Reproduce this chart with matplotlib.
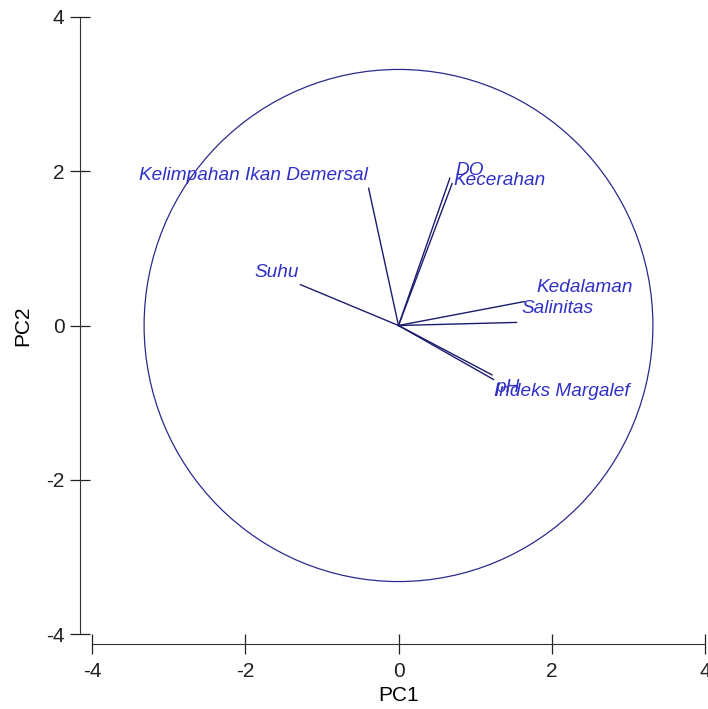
import numpy as np
import matplotlib
matplotlib.use("Agg")
import matplotlib.pyplot as plt
from matplotlib.patches import Circle

plt.rcParams['font.family'] = ['Liberation Sans', 'DejaVu Sans']
plt.rcParams['axes.unicode_minus'] = False

# PCA loadings (PC1, PC2) of each variable
variables = ['Kelimpahan Ikan Demersal', 'Suhu', 'DO', 'Kecerahan',
             'Kedalaman', 'Salinitas', 'pH', 'Indeks Margalef']
pc1 = [-0.39, -1.28, 0.67, 0.70, 1.64, 1.54, 1.24, 1.22]
pc2 = [1.78, 0.53, 1.91, 1.84, 0.31, 0.04, -0.70, -0.64]

# where each name is written
label_x = [-0.40, -1.88, 0.74, 0.72, 1.80, 1.61, 1.27, 1.24]
label_y = [1.95, 0.69, 2.01, 1.88, 0.49, 0.22, -0.80, -0.86]
label_ha = ['right', 'left', 'left', 'left', 'left', 'left', 'left', 'left']

circle_r = 3.32

fig = plt.figure(figsize=(7.08, 7.09), dpi=100)
ax = fig.add_axes([92/708, 75/709, 613/708, 617/709])

line_col = '#1c1c6e'
text_col = '#3030c8'

for x, y in zip(pc1, pc2):
    ax.plot([0, x], [0, y], color=line_col, lw=1.0)

for name, x, y, ha in zip(variables, label_x, label_y, label_ha):
    ax.text(x, y, name, color=text_col, fontsize=13.7, style='italic',
            ha=ha, va='center')

ax.add_patch(Circle((0, 0), circle_r, fill=False, edgecolor='#2a2a8c', lw=0.9))

ax.set_xlim(-4, 4)
ax.set_ylim(-4, 4)
ax.set_xticks([-4, -2, 0, 2, 4])
ax.set_yticks([-4, -2, 0, 2, 4])
ax.set_xlabel('PC1', fontsize=15)
ax.set_ylabel('PC2', fontsize=15)
ax.xaxis.set_label_coords(0.5, -0.084)
ax.yaxis.set_label_coords(-0.097, 0.5)

for s in ['top', 'right']:
    ax.spines[s].set_visible(False)
ax.spines['left'].set_position(('outward', 8.6))
ax.spines['bottom'].set_position(('outward', 7.2))
ax.spines['left'].set_color('#333333')
ax.spines['bottom'].set_color('#333333')
ax.tick_params(direction='inout', length=14.5, width=0.9, colors='#222222',
               labelsize=15)
ax.tick_params(axis='y', pad=4)
ax.tick_params(axis='x', pad=6)

fig.savefig('out.png', dpi=100)
